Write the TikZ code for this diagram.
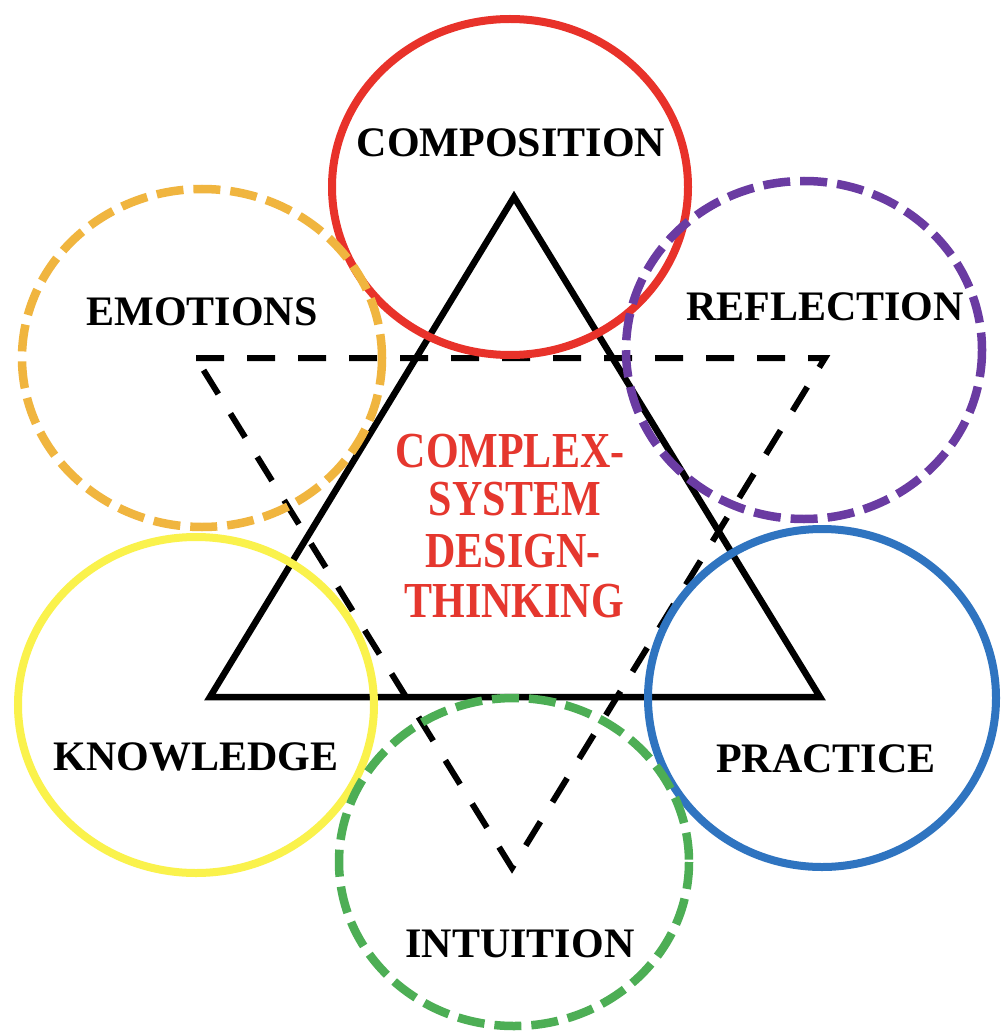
\documentclass[tikz,border=0pt]{standalone}
\usepackage{fontspec}
\usepackage{graphicx}
\setmainfont{Liberation Serif}
\definecolor{cred}{HTML}{E8322A}
\definecolor{corange}{HTML}{F0B53F}
\definecolor{cpurple}{HTML}{6A3BA2}
\definecolor{cyellow}{HTML}{FAF24C}
\definecolor{cblue}{HTML}{2F74C0}
\definecolor{cgreen}{HTML}{4DAE55}
\definecolor{ctext}{HTML}{E5372E}
\tikzset{
  solidring/.style={line width=8pt},
  dashring/.style={line width=8.5pt, dash pattern=on 27pt off 10pt},
  maintri/.style={line width=6.5pt, line join=miter},
  dashtri/.style={line width=6pt, dash pattern=on 28pt off 23pt},
  lbl/.style={anchor=base, inner sep=0pt, font=\fontsize{42}{50}\selectfont\bfseries},
  ctr/.style={anchor=base, inner sep=0pt, text=ctext, font=\fontsize{42}{50}\selectfont\bfseries}
}
\begin{document}
\begin{tikzpicture}[x=1pt,y=-1pt]
\useasboundingbox[fill=white] (0,0) rectangle (1000,1032);
% triangles
\coordinate (ta) at (514,197);
\coordinate (tb) at (210,697);
\coordinate (tc) at (820,697);
\coordinate (da) at (196,358);
\coordinate (db) at (825,358);
\coordinate (dc) at (512,868);
\draw[maintri] (ta) -- (tb) -- (tc) -- cycle;
\draw[dashtri] (da) -- (db) -- (dc) -- cycle;
% rings
\draw[solidring, cred] (510,187) ellipse [x radius=178, y radius=168];
\draw[solidring, cyellow] (196,705) ellipse [x radius=178, y radius=168];
\draw[solidring, cblue] (822,698) ellipse [x radius=174, y radius=169];
\draw[dashring, corange] (202,358) ellipse [x radius=180, y radius=169];
\draw[dashring, cpurple] (804,350) ellipse [x radius=178, y radius=169];
\draw[dashring, cgreen] (514,862) ellipse [x radius=175, y radius=164];
% labels
\node[lbl] (composition) at (511,157) {COMPOSITION};
\node[lbl] (emotions) at (202,325) {EMOTIONS};
\node[lbl] (reflection) at (825,320) {REFLECTION};
\node[lbl] (knowledge) at (196,770) {KNOWLEDGE};
\node[lbl] (practice) at (826,772) {PRACTICE};
\node[lbl] (intuition) at (520,957) {INTUITION};
% centre text
\node[ctr] (c1) at (510,467) {\scalebox{1}[1.2]{COMPLEX-}};
\node[ctr] (c2) at (515,515) {\scalebox{1}[1.2]{SYSTEM}};
\node[ctr] (c3) at (513,567) {\scalebox{1}[1.2]{DESIGN-}};
\node[ctr] (c4) at (514,617) {\scalebox{1}[1.2]{THINKING}};
\end{tikzpicture}
\end{document}
